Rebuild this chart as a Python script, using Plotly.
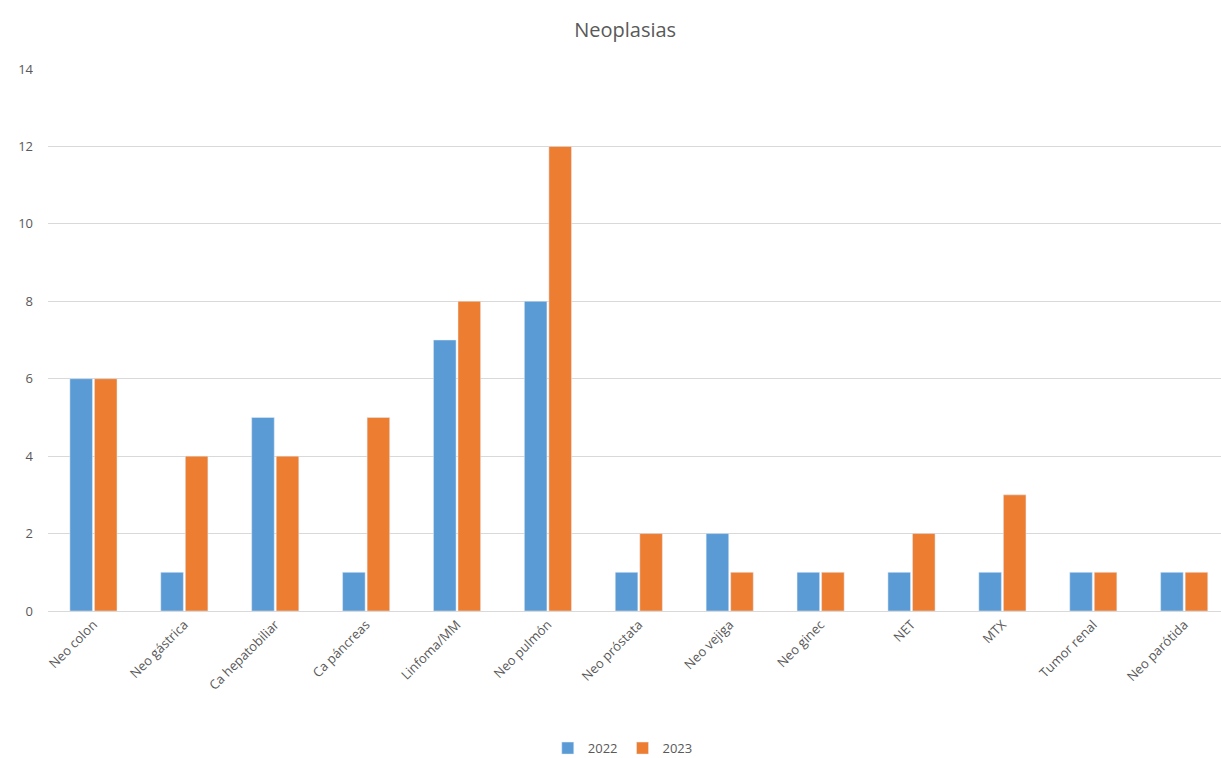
import plotly.graph_objects as go

categories = ["Neo colon", "Neo gástrica", "Ca hepatobiliar", "Ca páncreas", "Linfoma/MM",
              "Neo pulmón", "Neo próstata", "Neo vejiga", "Neo ginec", "NET", "MTX",
              "Tumor renal", "Neo parótida"]
values_2022 = [6, 1, 5, 1, 7, 8, 1, 2, 1, 1, 1, 1, 1]
values_2023 = [6, 4, 4, 5, 8, 12, 2, 1, 1, 2, 3, 1, 1]
y_ticks = [0, 2, 4, 6, 8, 10, 12, 14]

fig = go.Figure()
fig.add_trace(go.Bar(x=list(range(len(categories))), y=values_2022, name="2022", marker_color="#5B9BD5"))
fig.add_trace(go.Bar(x=list(range(len(categories))), y=values_2023, name="2023", marker_color="#ED7D31"))

grey = "#595959"
fig.update_layout(
    width=1221, height=758,
    margin=dict(l=48, r=0, t=69, b=147, autoexpand=False),
    paper_bgcolor="white", plot_bgcolor="white",
    font=dict(family="Open Sans, Liberation Sans, sans-serif", color=grey, size=13),
    title=dict(text="Neoplasias", x=0.512, xanchor="center", y=0.96, yanchor="middle",
               font=dict(size=20, color=grey)),
    barmode="group", bargap=0.46, bargroupgap=0.08,
    showlegend=True,
    legend=dict(orientation="h", x=0.49, xanchor="center", y=-0.253, yanchor="middle",
                font=dict(size=13, color=grey), itemwidth=30, traceorder="normal"),
    xaxis=dict(tickmode="array", tickvals=list(range(len(categories))), ticktext=categories,
               tickangle=-45, range=[-0.5, 12.405], showgrid=False, showline=True,
               linecolor="#d9d9d9", linewidth=1, ticks="", automargin=False,
               tickfont=dict(size=13, color=grey)),
    yaxis=dict(range=[0, 14], tickvals=y_ticks, showgrid=True, gridcolor="#d9d9d9",
               gridwidth=1, zeroline=False, ticks="", showline=False, automargin=False,
               tickfont=dict(size=13, color=grey), ticklabelstandoff=14),
)
fig.write_html("out.html")
